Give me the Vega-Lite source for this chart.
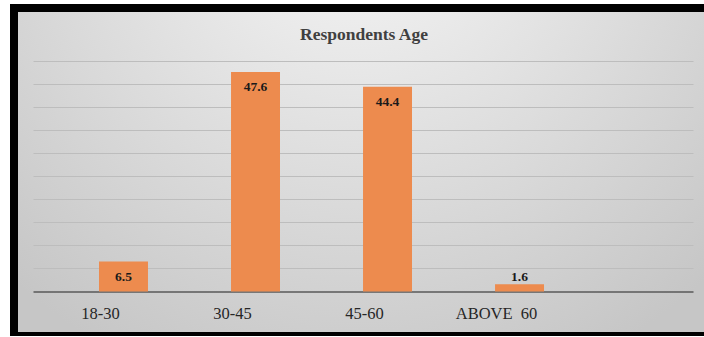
{
  "$schema": "https://vega.github.io/schema/vega-lite/v6.json",
  "width": 690,
  "height": 328,
  "padding": {"left": 14, "top": 8, "right": 0, "bottom": 0},
  "autosize": "none",
  "background": "#ffffff",
  "title": {
    "text": "Respondents Age",
    "font": "Liberation Serif",
    "fontSize": 17.5,
    "fontWeight": "bold",
    "color": "#404040",
    "anchor": "middle",
    "baseline": "middle",
    "offset": -44,
    "dx": 5
  },
  "data": {
    "values": [
      {"age": "18-30", "percent": 6.5},
      {"age": "30-45", "percent": 47.6},
      {"age": "45-60", "percent": 44.4},
      {"age": "ABOVE\u00a0\u00a060", "percent": 1.6}
    ]
  },
  "encoding": {
    "x": {
      "field": "age",
      "type": "nominal",
      "sort": null,
      "scale": {"paddingInner": 0.629, "paddingOuter": 0.928, "align": 0.347},
      "axis": {
        "title": null,
        "orient": "bottom",
        "offset": -44.5,
        "domain": true,
        "domainColor": "#595959",
        "domainWidth": 1.6,
        "domainDash": [0, 19, 660, 100],
        "ticks": false,
        "labelAngle": 0,
        "labelFont": "Liberation Serif",
        "labelFontSize": 16.5,
        "labelColor": "#262626",
        "labelBaseline": "middle",
        "labelPadding": 22,
        "labelOffset": -23,
        "grid": false
      }
    },
    "y": {
      "field": "percent",
      "type": "quantitative",
      "scale": {"domain": [-9.65, 61.5], "nice": false, "zero": false},
      "axis": {
        "title": null,
        "values": [5, 10, 15, 20, 25, 30, 35, 40, 45, 50],
        "labels": false,
        "ticks": false,
        "domain": false,
        "grid": true,
        "gridColor": "#bdbdbd",
        "gridWidth": 1,
        "gridDash": [0, 19, 660, 100]
      }
    }
  },
  "layer": [
    {
      "mark": {"type": "bar", "color": "#ED8B4E"},
      "encoding": {"y2": {"datum": 0}}
    },
    {
      "transform": [{"filter": "datum.percent > 5"}],
      "mark": {
        "type": "text",
        "font": "Liberation Serif",
        "fontSize": 13.5,
        "fontWeight": "bold",
        "color": "#1a1a1a",
        "baseline": "middle",
        "dy": 15
      },
      "encoding": {"text": {"field": "percent", "type": "quantitative", "format": ".1f"}}
    },
    {
      "transform": [{"filter": "datum.percent <= 5"}],
      "mark": {
        "type": "text",
        "font": "Liberation Serif",
        "fontSize": 13.5,
        "fontWeight": "bold",
        "color": "#1a1a1a",
        "baseline": "middle",
        "dy": -7
      },
      "encoding": {"text": {"field": "percent", "type": "quantitative", "format": ".1f"}}
    }
  ],
  "config": {
    "view": {
      "stroke": "#000000",
      "strokeWidth": 8,
      "strokeDash": [690, 328, 1100, 10],
      "strokeCap": "square",
      "fill": {
        "gradient": "radial",
        "x1": 0.5, "y1": 0.1, "r1": 0,
        "x2": 0.5, "y2": 0.1, "r2": 0.75,
        "stops": [
          {"offset": 0, "color": "#f8f8f8"},
          {"offset": 1, "color": "#c6c6c6"}
        ]
      }
    }
  }
}
